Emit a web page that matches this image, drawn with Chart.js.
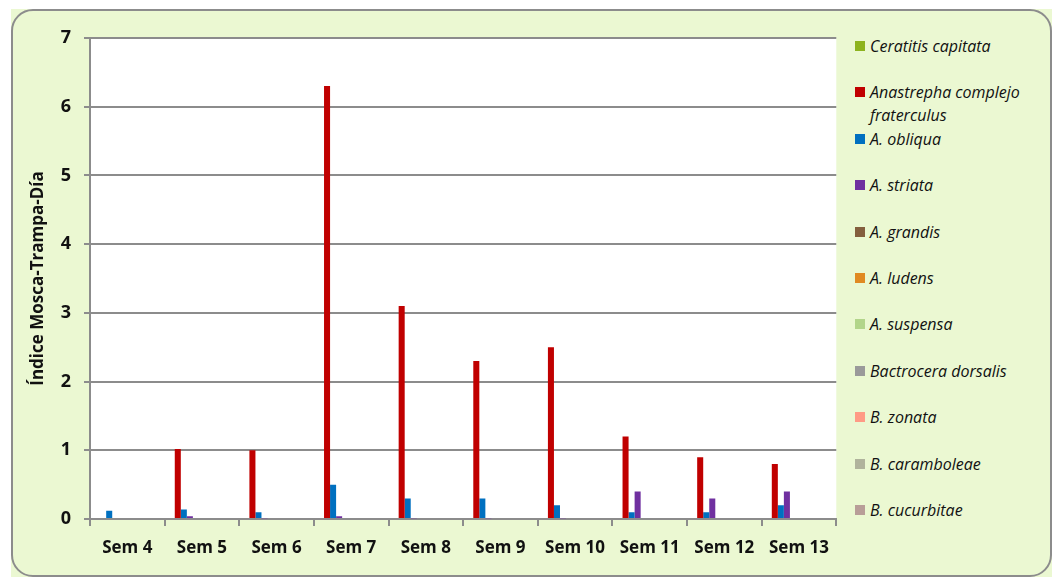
<!DOCTYPE html>
<html>
<head>
<meta charset="utf-8">
<script src="https://cdn.jsdelivr.net/npm/chart.js@4/dist/chart.umd.min.js"></script>
<style>
  html, body { margin: 0; padding: 0; background: #fff; }
  #frame {
    position: absolute; left: 11px; top: 9px; width: 1041px; height: 568px;
    background: #EBF8D2;
  }
  #border {
    position: absolute; left: 0; top: 0; right: 0; bottom: 0;
    border: 2px solid #8c8c8c; border-radius: 22px; box-sizing: border-box;
  }
  #wrap { position: absolute; left: 0; top: 0; width: 841px; height: 579px; }
  #legend {
    position: absolute; left: 855px; top: 35px; width: 198px;
    font-family: "Open Sans", sans-serif; font-style: italic; font-size: 16px; color: #111;
  }
  .item { position: absolute; left: 0; line-height: 23px; padding-left: 15px; white-space: nowrap; }
  .sw { position: absolute; left: 0; top: 6px; width: 10px; height: 10px; }
</style>
</head>
<body>
<div id="frame"><div id="border"></div></div>
<div id="wrap"><canvas id="chart" width="841" height="579"></canvas></div>
<div id="legend"></div>
<script>
const weeks = ["Sem 4", "Sem 5", "Sem 6", "Sem 7", "Sem 8", "Sem 9", "Sem 10", "Sem 11", "Sem 12", "Sem 13"];
const species = ["Ceratitis capitata", "Anastrepha complejo fraterculus", "A. obliqua", "A. striata", "A. grandis",
  "A. ludens", "A. suspensa", "Bactrocera dorsalis", "B. zonata", "B. caramboleae", "B. cucurbitae"];
const colors = ["#8DB31E", "#C00000", "#0070C0", "#7030A0", "#845F3E", "#E08A22", "#B2D58A", "#9A9A9A", "#FF9B85", "#B0B39C", "#B89E98"];

const ceratitis = [0, 0, 0, 0, 0, 0, 0, 0, 0, 0];
const fraterculus = [0, 1.02, 1.0, 6.3, 3.1, 2.3, 2.5, 1.2, 0.9, 0.8];
const obliqua = [0.12, 0.14, 0.1, 0.5, 0.3, 0.3, 0.2, 0.1, 0.1, 0.2];
const striata = [0, 0.04, 0.01, 0.04, 0.01, 0.01, 0.01, 0.4, 0.3, 0.4];
const grandis = [0, 0, 0, 0, 0, 0, 0, 0, 0, 0];
const ludens = [0, 0, 0, 0, 0, 0, 0, 0, 0, 0];
const suspensa = [0, 0, 0, 0, 0, 0, 0, 0, 0, 0];
const dorsalis = [0, 0, 0, 0, 0, 0, 0, 0, 0, 0];
const zonata = [0, 0, 0, 0, 0, 0, 0, 0, 0, 0];
const caramboleae = [0, 0, 0, 0, 0, 0, 0, 0, 0, 0];
const cucurbitae = [0, 0, 0, 0, 0, 0, 0, 0, 0, 0];
const series = [ceratitis, fraterculus, obliqua, striata, grandis, ludens, suspensa, dorsalis, zonata, caramboleae, cucurbitae];
const yTicks = [0, 1, 2, 3, 4, 5, 6, 7];

// legend on the right, built from the same arrays
const legendTops = [0, 46, 93, 139, 186, 232, 278, 325, 371, 418, 464];
const legend = document.getElementById("legend");
species.forEach((name, i) => {
  const el = document.createElement("div");
  el.className = "item";
  el.style.top = legendTops[i] + "px";
  el.innerHTML = `<span class="sw" style="background:${colors[i]}"></span>` +
    (i === 1 ? "Anastrepha complejo<br>fraterculus" : name);
  legend.appendChild(el);
});

const whiteArea = {
  id: "whiteArea",
  beforeDraw(chart) {
    const { ctx, chartArea: a } = chart;
    ctx.save();
    ctx.fillStyle = "#fff";
    ctx.fillRect(a.left, a.top, a.right - a.left, a.bottom - a.top);
    ctx.restore();
  }
};

const font = "'Open Sans', sans-serif";

new Chart(document.getElementById("chart"), {
  type: "bar",
  data: {
    labels: weeks,
    datasets: series.map((d, i) => ({
      label: species[i],
      data: d,
      backgroundColor: colors[i],
      categoryPercentage: 0.89,
      barPercentage: 1.0
    }))
  },
  options: {
    responsive: false,
    animation: false,
    layout: { padding: { top: 38, right: 1, bottom: 0, left: 28 } },
    plugins: { legend: { display: false }, tooltip: { enabled: false } },
    scales: {
      x: {
        grid: { offset: true, drawOnChartArea: false, color: "#8c8c8c", lineWidth: 2, tickLength: 7 },
        border: { color: "#8c8c8c", width: 2 },
        ticks: { color: "#111", font: { family: font, size: 17, weight: "bold" }, padding: 12 },
        afterFit(scale) { scale.height = 60; }
      },
      y: {
        min: 0, max: 7,
        afterBuildTicks(scale) { scale.ticks = yTicks.map(v => ({ value: v })); },
        grid: { color: "#8c8c8c", lineWidth: 2, tickLength: 6 },
        border: { color: "#8c8c8c", width: 2 },
        ticks: { color: "#111", font: { family: font, size: 18, weight: "bold" }, padding: 13 },
        title: {
          display: true, text: "Índice Mosca-Trampa-Día", color: "#111",
          font: { family: font, size: 17, weight: "bold" }, padding: { top: 0, bottom: 0 }
        },
        afterFit(scale) { scale.width = 62; }
      }
    }
  },
  plugins: [whiteArea]
});
</script>
</body>
</html>
